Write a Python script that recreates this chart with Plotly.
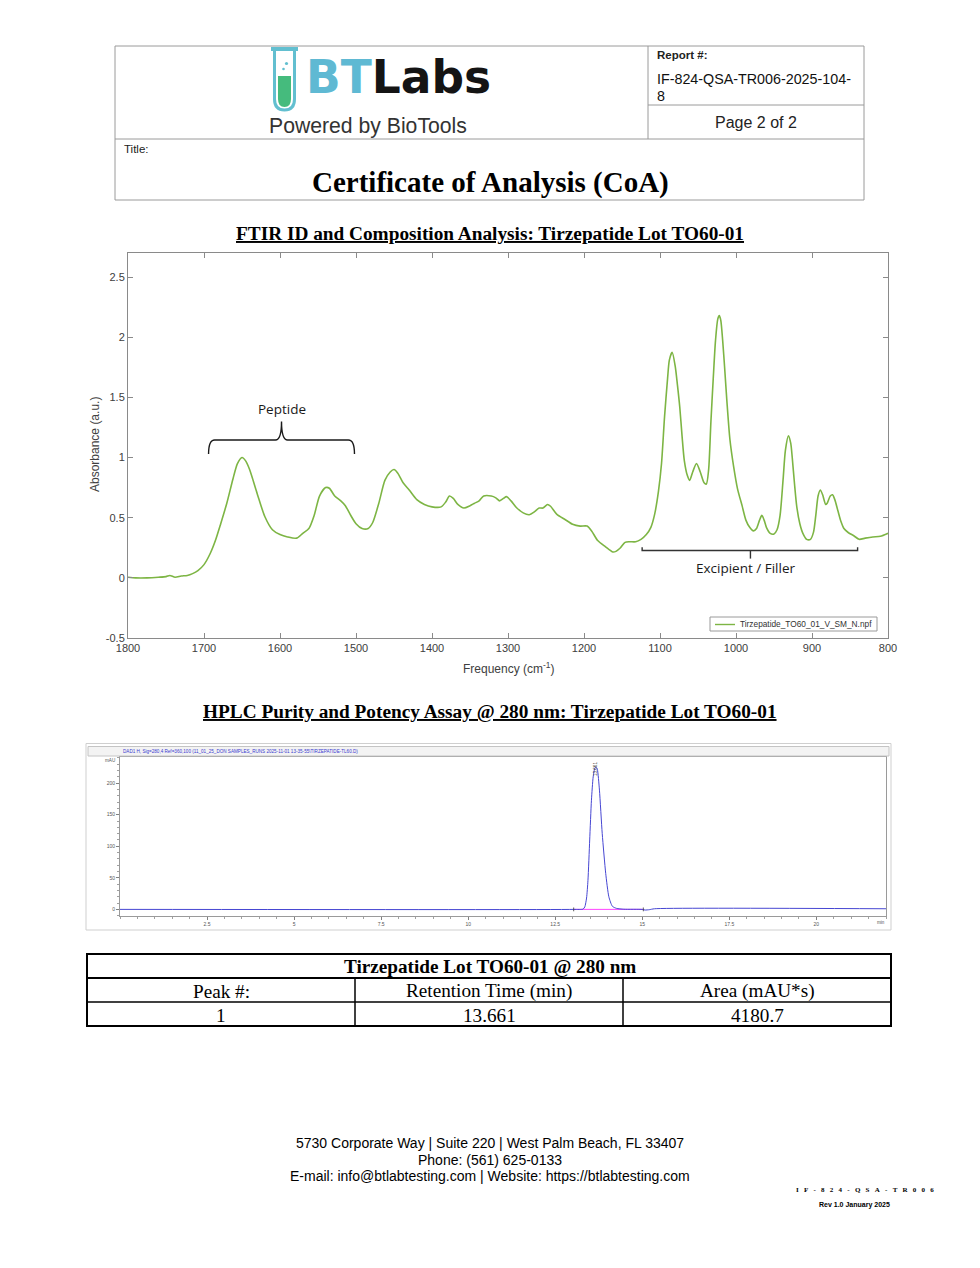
import plotly.graph_objects as go

W, H = 980, 1268


def px(x):
    return x / W


def py(y):
    return 1 - y / H


# ---------------- FTIR spectrum ----------------
ftir_wavenumber = [
    1800, 1790, 1775, 1760, 1750, 1745, 1738, 1730, 1722, 1715, 1708, 1700,
    1692, 1685, 1678, 1670, 1662, 1656, 1650, 1645, 1640, 1630, 1620, 1610,
    1600, 1590, 1578, 1570, 1562, 1555, 1548, 1540, 1535, 1528, 1520, 1514,
    1507, 1500, 1492, 1484, 1478, 1470, 1462, 1455, 1450, 1445, 1438, 1430,
    1420, 1410, 1400, 1388, 1382, 1377, 1372, 1366, 1358, 1350, 1344, 1338,
    1332, 1322, 1316, 1311, 1306, 1302, 1296, 1289, 1280, 1272, 1265, 1259,
    1254, 1248, 1244, 1236, 1225, 1215, 1205, 1196, 1190, 1182, 1172, 1162,
    1158, 1152, 1146, 1140, 1132, 1125, 1118, 1112, 1107, 1102, 1098, 1094,
    1090, 1087.7, 1084, 1080, 1077, 1074, 1071, 1068, 1064, 1061, 1057, 1052,
    1047, 1042, 1039, 1036, 1033, 1030, 1027, 1024, 1022, 1020, 1017.5, 1015,
    1012, 1008, 1003, 998, 992, 987, 982, 977, 973, 969, 966, 963, 960, 955,
    950, 946, 942, 938, 935, 931, 928, 926, 923, 920, 916, 912, 907, 902, 898,
    895, 892, 889, 886, 882, 880, 876, 873, 870, 866, 862, 858, 852, 845, 838,
    830, 820, 810, 800,
]
ftir_absorbance = [
    0.005, 0.0, 0.0, 0.005, 0.01, 0.02, 0.005, 0.015, 0.02, 0.035, 0.06, 0.11,
    0.2, 0.31, 0.45, 0.62, 0.82, 0.95, 1.0, 0.97, 0.9, 0.7, 0.51, 0.40,
    0.36, 0.34, 0.33, 0.37, 0.41, 0.52, 0.68, 0.75, 0.745, 0.68, 0.64, 0.6,
    0.52, 0.45, 0.41, 0.41, 0.46, 0.62, 0.81, 0.88, 0.90, 0.87, 0.79, 0.73,
    0.65, 0.61, 0.59, 0.59, 0.63, 0.68, 0.66, 0.61, 0.58, 0.60, 0.62, 0.64,
    0.68, 0.68, 0.665, 0.64, 0.66, 0.675, 0.64, 0.585, 0.54, 0.525, 0.55, 0.58,
    0.58, 0.61, 0.595, 0.53, 0.485, 0.445, 0.43, 0.43, 0.39, 0.31, 0.26, 0.215,
    0.22, 0.25, 0.295, 0.30, 0.30, 0.32, 0.36, 0.42, 0.53, 0.72, 0.95, 1.34,
    1.66, 1.81, 1.875, 1.76, 1.6, 1.42, 1.18, 0.975, 0.85, 0.81, 0.88, 0.95,
    0.88, 0.79, 0.78, 0.9, 1.3, 1.65, 1.97, 2.15, 2.18, 2.14, 1.97, 1.75,
    1.47, 1.15, 0.92, 0.74, 0.60, 0.48, 0.42, 0.39, 0.41, 0.48, 0.52, 0.48, 0.42, 0.37,
    0.365, 0.40, 0.52, 0.82, 1.06, 1.18, 1.12, 1.0, 0.78, 0.59, 0.45, 0.37, 0.32, 0.32, 0.38,
    0.52, 0.68, 0.73, 0.69, 0.61, 0.62, 0.68, 0.69, 0.65, 0.56, 0.47, 0.41, 0.375, 0.35, 0.32,
    0.33, 0.34, 0.345, 0.37,
]
ftir_name = "Tirzepatide_TO60_01_V_SM_N.npf"
ftir_xticks = [1800, 1700, 1600, 1500, 1400, 1300, 1200, 1100, 1000, 900, 800]
ftir_yticks = [-0.5, 0, 0.5, 1, 1.5, 2, 2.5]
ftir_yticklabels = ["-0.5", "0", "0.5", "1", "1.5", "2", "2.5"]

# ---------------- HPLC chromatogram ----------------
hplc_time = [0.0, 13.03, 13.30, 13.35, 13.40, 13.44, 13.49, 13.54, 13.59, 13.64,
             13.68, 13.71, 13.77, 13.85, 13.95, 14.04, 14.14, 14.26, 14.47, 15.0,
             15.08, 15.2, 15.35, 22.0]
hplc_signal = [0.0, 0.0, 0.5, 4, 18, 46, 110, 173, 210, 224,
               225, 222, 189, 120, 57, 20, 5, 1.6, 0.3, 0.0,
               -1.0, -0.5, 1.0, 1.0]
hplc_baseline_time = [13.03, 15.03]
hplc_baseline_signal = [0.0, 0.0]
hplc_xticks = [2.5, 5, 7.5, 10, 12.5, 15, 17.5, 20]
hplc_xticklabels = ["2.5", "5", "7.5", "10", "12.5", "15", "17.5", "20"]
hplc_yticks = [0, 50, 100, 150, 200]
peak_label = "13.661"

# ---------------- Results table ----------------
table_title = "Tirzepatide Lot TO60-01 @ 280 nm"
table_header = ["Peak #:", "Retention Time (min)", "Area (mAU*s)"]
table_row = ["1", "13.661", "4180.7"]

fig = go.Figure()

fig.add_trace(go.Scatter(
    x=ftir_wavenumber, y=ftir_absorbance, mode="lines", name=ftir_name,
    line=dict(color="#7db544", width=1.6, shape="spline", smoothing=0.7),
    xaxis="x", yaxis="y", showlegend=False, hoverinfo="skip"))

fig.add_trace(go.Scatter(
    x=hplc_baseline_time, y=hplc_baseline_signal, mode="lines",
    line=dict(color="#ff44ff", width=1), xaxis="x2", yaxis="y2",
    showlegend=False, hoverinfo="skip"))
fig.add_trace(go.Scatter(
    x=hplc_time, y=hplc_signal, mode="lines",
    line=dict(color="#4646d2", width=1, shape="spline", smoothing=0.6),
    xaxis="x2", yaxis="y2", showlegend=False, hoverinfo="skip"))

axis_col = "#8a8a8a"
tick_font = dict(family="Liberation Sans", size=11, color="#404040")

fig.update_layout(
    width=W, height=H, autosize=False,
    margin=dict(l=0, r=0, t=0, b=0, pad=0, autoexpand=False),
    paper_bgcolor="white", plot_bgcolor="white", showlegend=False,
    xaxis=dict(domain=[px(128), px(888)], anchor="y", range=[1800, 800],
               tickvals=ftir_xticks, ticks="inside", ticklen=5, automargin=False,
               tickcolor=axis_col, showline=True, linecolor=axis_col,
               linewidth=1, mirror="ticks", showgrid=False, zeroline=False,
               tickfont=tick_font),
    yaxis=dict(domain=[py(638), py(253)], anchor="x", range=[-0.5, 2.7],
               tickvals=ftir_yticks, ticktext=ftir_yticklabels, automargin=False,
               ticks="inside", ticklen=5,
               tickcolor=axis_col, showline=True, linecolor=axis_col,
               linewidth=1, mirror="ticks", showgrid=False, zeroline=False,
               tickfont=tick_font),
    xaxis2=dict(domain=[px(120), px(886)], anchor="y2", range=[0, 22],
                tickvals=hplc_xticks, ticktext=hplc_xticklabels, automargin=False,
                ticks="outside", ticklen=3, tickcolor="#808080",
                minor=dict(dtick=0.5, tick0=0, ticks="outside", ticklen=2, tickcolor="#a0a0a0"),
                showline=True, linecolor="#9a9a9a", linewidth=1, mirror=True,
                showgrid=False, zeroline=False,
                tickfont=dict(family="Liberation Sans", size=5, color="#555555")),
    yaxis2=dict(domain=[py(915.7), py(757.3)], anchor="x2", range=[-10, 241],
                tickvals=hplc_yticks, ticks="outside", ticklen=3, tickcolor="#808080",
                automargin=False,
                minor=dict(dtick=10, tick0=0, ticks="outside", ticklen=2, tickcolor="#a0a0a0"),
                showline=True, linecolor="#9a9a9a", linewidth=1, mirror=True,
                showgrid=False, zeroline=False,
                tickfont=dict(family="Liberation Sans", size=5, color="#555555")),
)

shapes = []
ann = []


def rect(x0, y0, x1, y1, color="#999999", width=1, fill=None):
    shapes.append(dict(type="rect", xref="paper", yref="paper",
                       x0=px(x0), x1=px(x1), y0=py(y1), y1=py(y0),
                       line=dict(color=color, width=width),
                       fillcolor=fill if fill else "rgba(0,0,0,0)"))


def hline(x0, x1, y, color="#999999", width=1):
    shapes.append(dict(type="line", xref="paper", yref="paper",
                       x0=px(x0), x1=px(x1), y0=py(y), y1=py(y),
                       line=dict(color=color, width=width)))


def vline(x, y0, y1, color="#999999", width=1):
    shapes.append(dict(type="line", xref="paper", yref="paper",
                       x0=px(x), x1=px(x), y0=py(y0), y1=py(y1),
                       line=dict(color=color, width=width)))


def text(x, y, s, size, family="Liberation Sans", color="#000000",
         xanchor="center", yanchor="middle", **kw):
    ann.append(dict(x=px(x), y=py(y), xref="paper", yref="paper", text=s,
                    showarrow=False, xanchor=xanchor, yanchor=yanchor,
                    font=dict(family=family, size=size, color=color), **kw))


def path(cmds):
    out = []
    for c in cmds:
        op = c[0]
        pts = c[1:]
        coords = []
        for i in range(0, len(pts), 2):
            coords.append(f"{px(pts[i]):.5f},{py(pts[i + 1]):.5f}")
        out.append(op + " " + " ".join(coords) if coords else op)
    return " ".join(out)


# ---------------- Header ----------------
rect(115, 46, 864, 200, color="#9a9a9a", width=1)
vline(648, 46, 139, color="#9a9a9a")
hline(115, 864, 139, color="#9a9a9a")
hline(648, 864, 105, color="#9a9a9a")

text(655, 55, "<b>Report #:</b>", 11.5, xanchor="left", color="#222222")
text(655, 79, "IF-824-QSA-TR006-2025-104-", 14.3, xanchor="left", color="#111111")
text(655, 96, "8", 14.3, xanchor="left", color="#111111")
text(756, 123, "Page 2 of 2", 16, color="#222222")
text(122, 149, "Title:", 11.5, xanchor="left", color="#222222")
text(490, 182, "<b>Certificate of Analysis (CoA)</b>", 29, family="Liberation Serif")

# Logo: test tube
shapes.append(dict(type="path", xref="paper", yref="paper",
                   path=path([("M", 278, 76), ("L", 278, 99), ("Q", 278, 107, 284.5, 107),
                              ("Q", 291, 107, 291, 99), ("L", 291, 76), ("Z",)]),
                   fillcolor="#45bb7d", line=dict(width=0)))
shapes.append(dict(type="path", xref="paper", yref="paper",
                   path=path([("M", 274.5, 50), ("L", 274.5, 99), ("Q", 274.5, 110, 284.5, 110),
                              ("Q", 294.5, 110, 294.5, 99), ("L", 294.5, 50)]),
                   line=dict(color="#62bfd0", width=3)))
shapes.append(dict(type="rect", xref="paper", yref="paper",
                   x0=px(271), x1=px(298), y0=py(51), y1=py(47),
                   fillcolor="#62bfd0", line=dict(width=0)))
for (bx, by, r) in [(286.5, 63.5, 1.6), (283.5, 69, 1.3)]:
    shapes.append(dict(type="circle", xref="paper", yref="paper",
                       x0=px(bx - r), x1=px(bx + r), y0=py(by + r), y1=py(by - r),
                       fillcolor="#62bfd0", line=dict(width=0)))
text(304, 78, '<b><span style="color:#5fb9d3">BT</span><span style="color:#141414">Labs</span></b>',
     45.5, family="DejaVu Sans", xanchor="left")
text(368, 126, "Powered by BioTools", 21.2, color="#333333")

# ---------------- FTIR section ----------------
text(490, 234, "<b><u>FTIR ID and Composition Analysis: Tirzepatide Lot TO60-01</u></b>",
     19.3, family="Liberation Serif")
text(95, 445, "Absorbance (a.u.)", 12, color="#404040", textangle=-90)
text(508, 668, "Frequency (cm<sup>-1</sup>)", 12, color="#404040")

# peptide brace (data coordinates)
shapes.append(dict(type="path", xref="x", yref="y",
                   path="M 1694,1.03 Q 1694,1.146 1686,1.146 L 1606,1.146 Q 1598,1.146 1598,1.30 "
                        "Q 1598,1.146 1590,1.146 L 1510,1.146 Q 1502,1.146 1502,1.03",
                   line=dict(color="#1a1a1a", width=1.4)))
ann.append(dict(x=1598, y=1.405, xref="x", yref="y", text="Peptide", showarrow=False,
                font=dict(family="Open Sans", size=13.5, color="#1a1a1a")))
# excipient bracket
shapes.append(dict(type="path", xref="x", yref="y",
                   path="M 1123.5,0.255 L 1123.5,0.227 L 840,0.227 L 840,0.255",
                   line=dict(color="#333333", width=1.4)))
shapes.append(dict(type="line", xref="x", yref="y", x0=981, x1=981, y0=0.227, y1=0.16,
                   line=dict(color="#333333", width=1.4)))
ann.append(dict(x=987, y=0.082, xref="x", yref="y", text="Excipient / Filler", showarrow=False,
                font=dict(family="Open Sans", size=13.5, color="#1a1a1a")))

# legend box
rect(710, 617, 877, 631, color="#9a9a9a", width=1, fill="white")
hline(715, 735, 624.5, color="#7db544", width=1.4)
text(738, 624.5, ftir_name, 8.3, xanchor="left", color="#333333")

# ---------------- HPLC section ----------------
text(490, 711, "<b><u>HPLC Purity and Potency Assay @ 280 nm: Tirzepatide Lot TO60-01</u></b>",
     19.3, family="Liberation Serif")
rect(86, 743.5, 891, 930, color="#cfcfcf", width=1)
rect(88, 746.5, 889, 756, color="#c4c4c4", width=1, fill="#f3f3f3")
text(121, 751.3, "DAD1 H, Sig=280,4 Ref=360,100 (11_01_25_DON SAMPLES_RUNS 2025-11-01 13-35-55\\TIRZEPATIDE-TL60.D)",
     4.6, xanchor="left", color="#3a3ad0")
text(110, 760.5, "mAU", 4.6, color="#555555")
text(881, 922.5, "min", 4.6, color="#555555")
ann.append(dict(x=13.661, y=236, xref="x2", yref="y2", text=peak_label, showarrow=False,
                textangle=-90, yanchor="top",
                font=dict(family="Liberation Sans", size=4.6, color="#333333")))
for t in hplc_baseline_time:
    shapes.append(dict(type="line", xref="x2", yref="y2", x0=t, x1=t, y0=-3, y1=3,
                       line=dict(color="#333333", width=0.8)))

# ---------------- Results table ----------------
tl, tr = 87, 891
rect(tl, 954, tr, 1026, color="#000000", width=2)
hline(tl, tr, 978, color="#000000", width=2)
hline(tl, tr, 1002, color="#000000", width=1.5)
vline(355, 978, 1026, color="#000000", width=1.5)
vline(623, 978, 1026, color="#000000", width=1.5)
text(490, 966.5, "<b>" + table_title + "</b>", 19.2, family="Liberation Serif")
col_centers = [221, 489, 757]
for cx, h, v in zip(col_centers, table_header, table_row):
    text(cx, 991, h, 19.2, family="Liberation Serif")
    text(cx, 1015, v, 19.2, family="Liberation Serif")

# ---------------- Footer ----------------
text(490, 1143, "5730 Corporate Way | Suite 220 | West Palm Beach, FL 33407", 14)
text(490, 1160, "Phone: (561) 625-0133", 14)
text(490, 1176, "E-mail: info@btlabtesting.com | Website: https://btlabtesting.com", 14)
gap = "\u00a0\u00a0\u00a0"
code = gap.join("IF-824-QSA-TR006")
text(865, 1190, "<b>" + code + "</b>", 7, family="Liberation Serif")
text(854, 1205, "<b>Rev 1.0 January 2025</b>", 7, family="Liberation Sans")

fig.update_layout(shapes=shapes, annotations=ann)
fig.write_html("out.html", config={"displayModeBar": False},
               post_script="document.body.style.margin='0px';document.body.style.overflow='hidden';")
